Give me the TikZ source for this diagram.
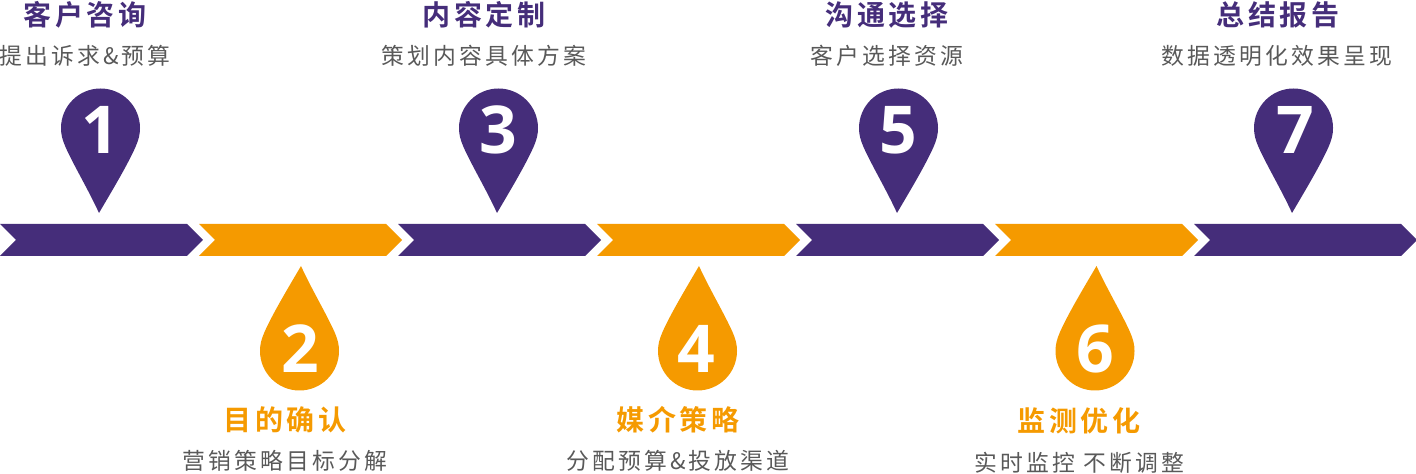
\documentclass[tikz,border=0pt]{standalone}
\usepackage{fontspec}
\setmainfont{Noto Sans CJK SC}
\newfontfamily\titlefont[LetterSpace=12,BoldFont={Noto Sans CJK SC Bold}]{Noto Sans CJK SC}
\newfontfamily\subfont[LetterSpace=14]{Noto Sans CJK SC}
\newfontfamily\digitfont{Open Sans}
\usepackage{tikz}
\usetikzlibrary{positioning,shapes.symbols}
\definecolor{grape}{HTML}{452D7A}
\definecolor{amber}{HTML}{F59A00}
\definecolor{slate}{HTML}{595959}
\tikzset{
	chev/.style={signal,signal to=east,signal from=west,signal pointer angle=90,
		minimum width=101.5pt,minimum height=16pt,inner sep=0pt,outer sep=0pt},
	chevg/.style={chev,fill=grape},
	cheva/.style={chev,fill=amber},
	digit/.style={text=white,font=\digitfont\fontsize{33}{33}\selectfont\bfseries},
	headg/.style={text=grape,font=\titlefont\fontsize{14}{14}\selectfont\bfseries},
	heada/.style={text=amber,font=\titlefont\fontsize{14}{14}\selectfont\bfseries},
	subline/.style={text=slate,font=\subfont\fontsize{11.4}{11.4}\selectfont},
	pics/pinmark/.style={code={
		\fill[#1] (-1.5,85) .. controls (-12,62) and (-27,37) .. (-35,19)
			.. controls (-38,12) and (-39.5,7) .. (-39.5,0)
			.. controls (-39.5,-21.8) and (-21.8,-39.5) .. (0,-39.5)
			.. controls (21.8,-39.5) and (39.5,-21.8) .. (39.5,0)
			.. controls (39.5,7) and (38,12) .. (35,19)
			.. controls (27,37) and (12,62) .. (-1.5,85) -- cycle;
	}}
}
\begin{document}
\begin{tikzpicture}[x=0.5pt,y=-0.5pt]
	\useasboundingbox (0,0) rectangle (1416,474);
	\node[chevg,anchor=west] (arrow1) at (16,240) {};
	\node[cheva] (arrow2) [right = 6pt of arrow1] {};
	\node[chevg] (arrow3) [right = 6pt of arrow2] {};
	\node[cheva] (arrow4) [right = 6pt of arrow3] {};
	\node[chevg] (arrow5) [right = 6pt of arrow4] {};
	\node[cheva] (arrow6) [right = 6pt of arrow5] {};
	\node[chevg,minimum width=111.5pt] (arrow7) [right = 6pt of arrow6] {};
	\pic at (100.5,128) {pinmark=grape};
	\pic[rotate=180] at (299.5,351) {pinmark=amber};
	\pic at (498.5,128) {pinmark=grape};
	\pic[rotate=180] at (697.5,351) {pinmark=amber};
	\pic at (898.5,128) {pinmark=grape};
	\pic[rotate=180] at (1095,351) {pinmark=amber};
	\pic at (1293.5,128) {pinmark=grape};
	\node[digit] (num1) at (100,130) {1};
	\node[digit] (num2) at (300,349) {2};
	\node[digit] (num3) at (498,130) {3};
	\node[digit] (num4) at (696,349) {4};
	\node[digit] (num5) at (898,130) {5};
	\node[digit] (num6) at (1095,349) {6};
	\node[digit] (num7) at (1295,130) {7};
	\node[headg] (head1) at (85,15) {客户咨询};
	\node[subline] (sub1) at (85,56) {提出诉求\&预算};
	\node[heada] (head2) at (285,420) {目的确认};
	\node[subline] (sub2) at (285,461) {营销策略目标分解};
	\node[headg] (head3) at (484,15) {内容定制};
	\node[subline] (sub3) at (484,56) {策划内容具体方案};
	\node[heada] (head4) at (678,420) {媒介策略};
	\node[subline] (sub4) at (678,461) {分配预算\&投放渠道};
	\node[headg] (head5) at (887,15) {沟通选择};
	\node[subline] (sub5) at (887,56) {客户选择资源};
	\node[heada] (head6) at (1079,421) {监测优化};
	\node[subline] (sub6) at (1079,463) {实时监控 不断调整};
	\node[headg] (head7) at (1278,15) {总结报告};
	\node[subline] (sub7) at (1277,56) {数据透明化效果呈现};
\end{tikzpicture}
\end{document}
